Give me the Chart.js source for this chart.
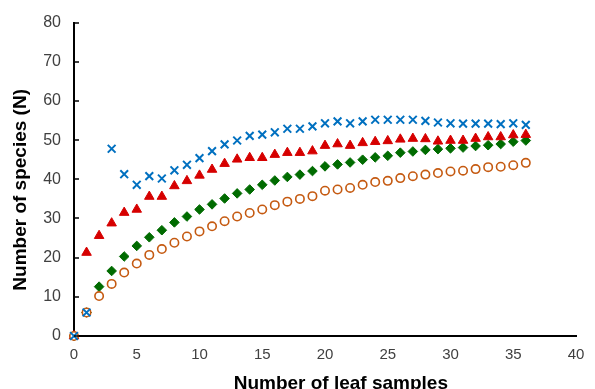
<!DOCTYPE html>
<html>
<head>
<meta charset="utf-8">
<script src="https://cdn.jsdelivr.net/npm/chart.js@4/dist/chart.umd.min.js"></script>
<style>
html,body{margin:0;padding:0;background:#fff;}
#wrap{width:595px;height:389px;}
</style>
</head>
<body>
<div id="wrap"><canvas id="c" width="595" height="389"></canvas></div>
<script>
const samples = [0,1,2,3,4,5,6,7,8,9,10,11,12,13,14,15,16,17,18,19,20,21,22,23,24,25,26,27,28,29,30,31,32,33,34,35,36];
const seriesCross = [0,6,null,47.8,41.3,38.6,40.8,40.2,42.3,43.7,45.4,47.2,48.9,49.9,51.1,51.4,52.0,52.9,52.9,53.5,54.3,54.8,54.3,54.8,55.2,55.2,55.2,55.2,54.9,54.5,54.3,54.2,54.2,54.2,54.1,54.3,53.9];
const seriesTriangle = [0,21.3,25.6,28.8,31.5,32.3,35.6,35.6,38.3,39.6,41.0,42.5,44.0,45.1,45.5,45.5,46.3,46.8,46.8,47.2,48.6,49.0,48.6,49.3,49.6,49.8,50.2,50.4,50.3,49.7,49.9,49.9,50.4,50.8,50.8,51.3,51.4];
const seriesDiamond = [0,6,12.6,16.6,20.3,23.0,25.2,27.0,29.0,30.5,32.3,33.6,35.1,36.4,37.4,38.6,39.7,40.6,41.2,42.1,43.3,43.8,44.3,45.0,45.6,46.0,46.8,47.1,47.5,47.7,47.9,48.1,48.5,48.7,49.0,49.6,49.9];
const seriesCircle = [0,6,10.2,13.3,16.2,18.5,20.7,22.2,23.8,25.4,26.7,28.0,29.3,30.5,31.4,32.3,33.4,34.3,35.0,35.7,37.1,37.4,37.8,38.6,39.3,39.6,40.3,40.8,41.2,41.6,42.0,42.2,42.6,43.1,43.2,43.6,44.2];
const xTitle = "Number of leaf samples";
const yTitle = "Number of species (N)";

function pts(arr){ return samples.map((x,i)=>({x:x,y:arr[i]})).filter(p=>p.y!==null); }

const inwardTicks = {
  id:'inwardTicks',
  afterDatasetsDraw(chart){
    const ys = chart.scales.y, ctx = chart.ctx, left = chart.chartArea.left;
    ctx.save();
    ctx.strokeStyle = '#000'; ctx.lineWidth = 1.5;
    ys.ticks.forEach(t=>{
      const py = Math.round(ys.getPixelForValue(t.value));
      ctx.beginPath(); ctx.moveTo(left, py); ctx.lineTo(left+5, py); ctx.stroke();
    });
    ctx.restore();
  }
};

new Chart(document.getElementById('c'), {
  type:'scatter',
  data:{
    datasets:[
      {data:pts(seriesCross), pointStyle:'crossRot', pointRadius:5.5, borderColor:'#0070C0', backgroundColor:'#0070C0', pointBorderWidth:2, clip:false},
      {data:pts(seriesCircle), pointStyle:'circle', pointRadius:4.2, borderColor:'#C55A11', backgroundColor:'#ffffff', pointBorderWidth:1.6, clip:false},
      {data:pts(seriesTriangle), pointStyle:'triangle', pointRadius:5.5, borderColor:'#D60000', backgroundColor:'#D60000', pointBorderWidth:1, clip:false},
      {data:pts(seriesDiamond), pointStyle:'rectRot', pointRadius:4.8, borderColor:'#006B00', backgroundColor:'#006B00', pointBorderWidth:1, clip:false}
    ]
  },
  options:{
    responsive:false, animation:false, devicePixelRatio:1,
    layout:{padding:{left:0,right:19,top:20,bottom:0}},
    plugins:{legend:{display:false}, tooltip:{enabled:false}},
    scales:{
      x:{
        type:'linear', min:0, max:40,
        ticks:{stepSize:5, color:'#404040', font:{family:'Liberation Sans, Arial', size:15}, padding:10, maxRotation:0},
        grid:{display:false, drawTicks:false},
        border:{display:true, color:'#000', width:2},
        title:{display:true, text:'\u00a0'.repeat(6) + xTitle, color:'#000', font:{family:'Liberation Sans, Arial', size:19, weight:'bold'}, padding:{top:0,bottom:-6}},
        afterFit(s){ s.height = 53; }
      },
      y:{
        min:0, max:80,
        ticks:{stepSize:10, color:'#404040', font:{family:'Liberation Sans, Arial', size:16}, padding:13},
        grid:{display:false, drawTicks:false},
        border:{display:true, color:'#000', width:2},
        title:{display:true, text:yTitle + '\u00a0'.repeat(4), color:'#000', font:{family:'Liberation Sans, Arial', size:19, weight:'bold'}, padding:{top:9,bottom:0}},
        afterFit(s){ s.width = 74; }
      }
    }
  },
  plugins:[inwardTicks]
});
</script>
</body>
</html>
